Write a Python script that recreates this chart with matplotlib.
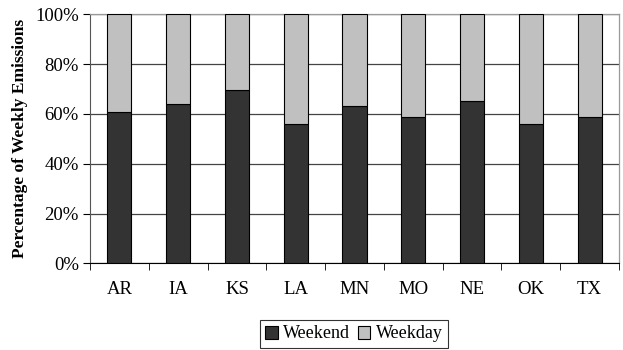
import matplotlib
matplotlib.use("Agg")
import matplotlib.pyplot as plt
import numpy as np
from matplotlib.patches import Patch

states = ["AR", "IA", "KS", "LA", "MN", "MO", "NE", "OK", "TX"]
weekend = [60.9, 64.1, 69.7, 55.9, 63.3, 58.8, 65.3, 55.9, 58.8]
weekday = [100 - v for v in weekend]
yticks = [0, 20, 40, 60, 80, 100]
ytick_labels = ["0%", "20%", "40%", "60%", "80%", "100%"]

plt.rcParams['font.family'] = ['Liberation Serif', 'DejaVu Serif']

fig = plt.figure(figsize=(6.23, 3.5), dpi=100)
ax = fig.add_axes([90/623, 1 - 263.3/350, (619-90)/623, (263.3-14.3)/350])

x = np.arange(len(states))
dark = "#333333"
light = "#C0C0C0"
ax.bar(x, weekend, width=0.41, color=dark, edgecolor="black", linewidth=0.8, zorder=3)
ax.bar(x, weekday, width=0.41, bottom=weekend, color=light, edgecolor="black", linewidth=0.8, zorder=3)

ax.set_xlim(-0.5, len(states) - 0.5)
ax.set_ylim(0, 100)
ax.set_yticks(yticks)
ax.set_yticklabels(ytick_labels, fontsize=13.5)
ax.set_xticks(x)
ax.set_xticklabels(states, fontsize=13.5)
ax.tick_params(axis='x', length=0, pad=13)
ax.set_xticks(np.arange(-0.5, len(states), 1), minor=True)
ax.tick_params(axis='x', which='minor', length=5, direction='out', color='black')
ax.tick_params(axis='y', length=5, direction='out', color='black', pad=3)
ax.yaxis.grid(True, color="#444444", linewidth=0.9, zorder=0)
ax.set_axisbelow(True)
for s in ["top", "right"]:
    ax.spines[s].set_color("#999999")
    ax.spines[s].set_linewidth(0.9)
ax.spines["left"].set_color("#555555")
ax.spines["bottom"].set_color("black")

ax.set_ylabel("Percentage of Weekly Emissions", fontsize=12.5, fontweight="bold", labelpad=5)

handles = [Patch(facecolor=dark, edgecolor="black", linewidth=0.8, label="Weekend"),
           Patch(facecolor=light, edgecolor="black", linewidth=0.8, label="Weekday")]
leg = fig.legend(handles=handles, loc="center", bbox_to_anchor=(354/623, 1 - 334/350), ncol=2,
                 fontsize=13, frameon=True, fancybox=False, edgecolor="black",
                 handlelength=0.7, handleheight=0.7, handletextpad=0.3, columnspacing=0.4,
                 borderpad=0.3, borderaxespad=0)
leg.get_frame().set_linewidth(0.8)

fig.savefig("out.png", dpi=100)
